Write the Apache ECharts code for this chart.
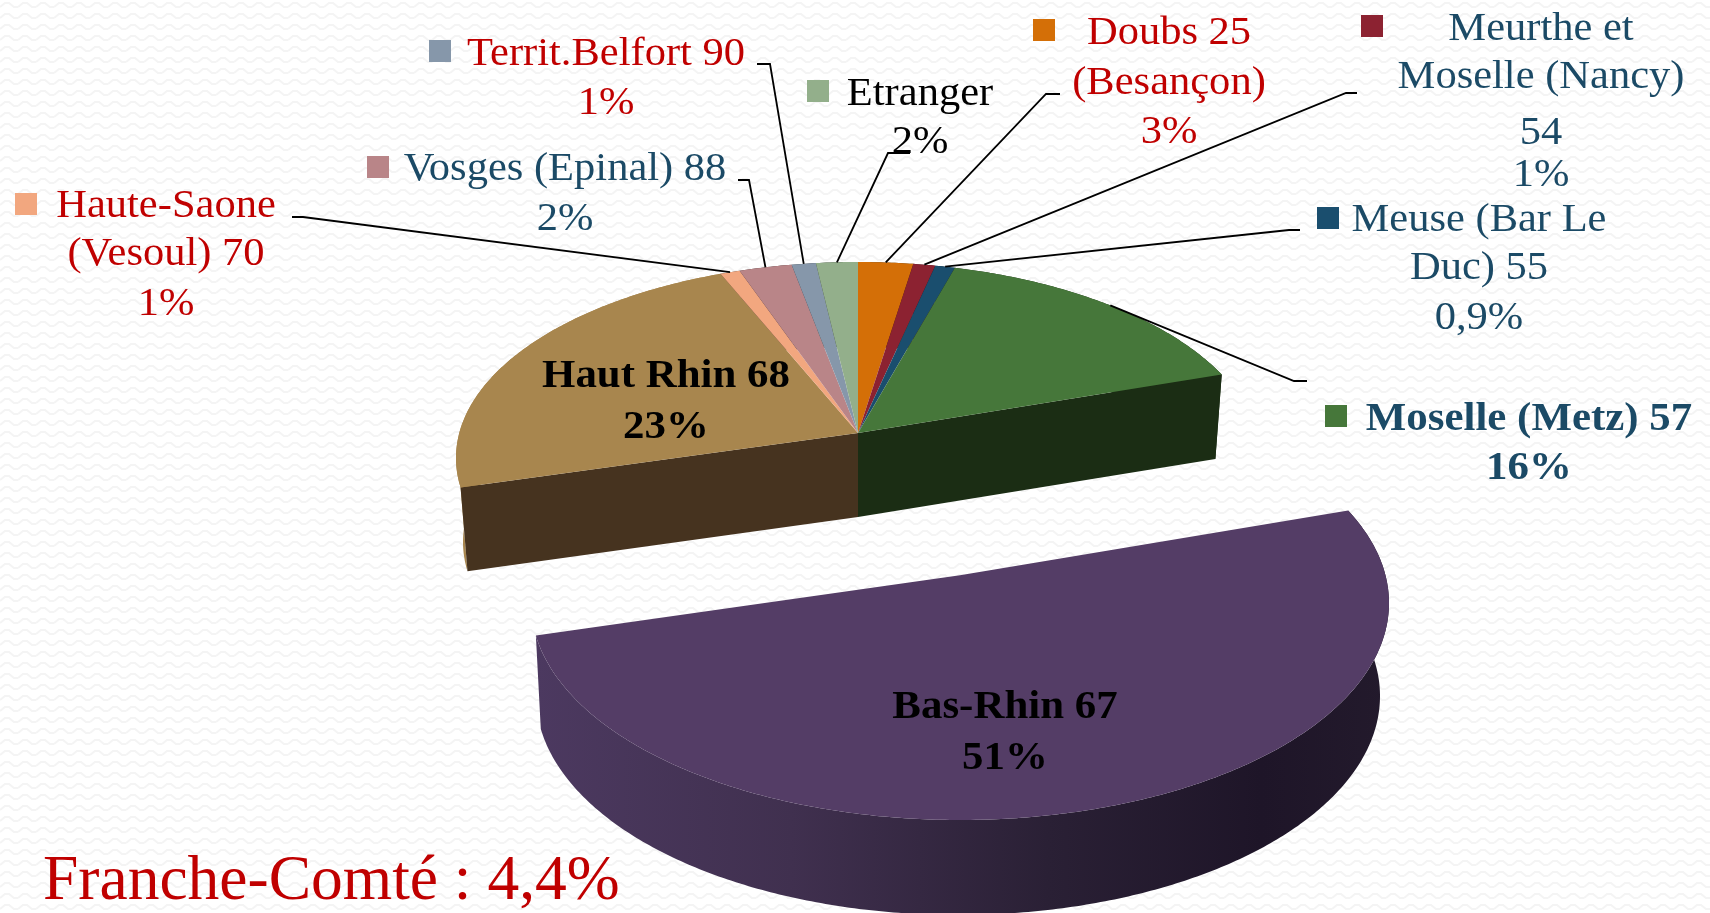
<!DOCTYPE html>
<html lang="fr">
<head>
<meta charset="utf-8">
<title>Franche-Comté : 4,4%</title>
<style>html,body{margin:0;padding:0;background:#fff}#c{width:1710px;height:913px}</style>
<script src="https://cdn.jsdelivr.net/npm/echarts@6/dist/echarts.min.js"></script>
</head>
<body>
<div id="c"></div>
<script>
// ---- data, clockwise from the top of the pie ----
const categories = ['Doubs 25\n(Besançon)', 'Meurthe et\nMoselle (Nancy)\n54', 'Meuse (Bar Le\nDuc) 55', 'Moselle (Metz) 57', 'Bas-Rhin 67', 'Haut Rhin 68', 'Haute-Saone\n(Vesoul) 70', 'Vosges (Epinal) 88', 'Territ.Belfort 90', 'Etranger'];
const shares = [2.5, 1.0, 0.9, 15.5, 50.7, 23.1, 0.9, 2.4, 1.1, 1.9];
const percentLabels = ['3%', '1%', '0,9%', '16%', '51%', '23%', '1%', '2%', '1%', '2%'];
const titleText = 'Franche-Comté : 4,4%';

// ---- styles ----
const topColors = ['#d46f07', '#8c2231', '#1a4e6e', '#46773a', '#543d66', '#a8864e', '#f2a77f', '#b98588', '#8697aa', '#93af8b'];
const sideColors = ['#4a2703', '#310c11', '#091b26', '#1b2d14', '#231a2c', '#46331f', '#553a2c', '#412e2f', '#2f353b', '#333d30'];
const wallColors = sideColors.map((c, i) => i === 5 ? '#a8864e' : c);
const labelColors = ['#c00000', '#1b4a66', '#1b4a66', '#1b4a66', '#000000', '#000000', '#c00000', '#1b4a66', '#c00000', '#000000'];
const boldLabels = [false, false, false, true, true, true, false, false, false, false];

// ---- layout: perspective of the pie and label placement ----
const perspective = 0.128;
const rings = {
  mainTop: {cx: 858, cy: 458, rx: 402, ry: 196},
  mainBase: {cx: 858, cy: 542, rx: 395, ry: 195},
  outTop: {cx: 960, cy: 603, rx: 429, ry: 217},
  outBase: {cx: 958, cy: 696, rx: 422, ry: 219}
};
const explodedIndex = 4;
const labelLayout = [
  {sw: [1033, 19], cx: 1169, base: [46, 96, 145], lead: [[1060, 94], [1046, 94]]},
  {sw: [1361, 15], cx: 1541, base: [42, 90, 146, 188], lead: [[1357, 93], [1346, 93]]},
  {sw: [1317, 207], cx: 1479, base: [233, 281, 331], lead: [[1300, 230], [1289, 230]]},
  {sw: [1325, 405], cx: 1529, base: [432, 481], lead: [[1307, 381], [1294, 381]]},
  {sw: [853, 694], cx: 1005, base: [720, 771], lead: null},
  {sw: [506, 363], cx: 666, base: [389, 440], lead: null},
  {sw: [15, 193], cx: 166, base: [219, 267, 317], lead: [[292, 217], [303, 217]]},
  {sw: [367, 156], cx: 565, base: [182, 232], lead: [[738, 180], [749, 180]]},
  {sw: [429, 40], cx: 606, base: [67, 116], lead: [[757, 64], [770, 64]]},
  {sw: [807, 80], cx: 920, base: [107, 155], lead: [[910, 153], [888, 153]]}
];
const FONT = '"Liberation Serif","Times New Roman",serif';
const FS = 39, STRETCH = 1.09, STRETCH_BOLD = 1.1;

// cumulative [start, end] percent for every slice
let running = 0;
const ranges = shares.map(v => { const r = [running, running + v]; running += v; return r; });
const total = running;

// projects a share position on a ring with perspective
function project(pos, ring) {
  const a = pos / total * Math.PI * 2;
  const p = Math.sin(a), q = Math.cos(a), e = perspective;
  const w = 1 + e * q;
  return [ring.cx + ring.rx * p * Math.sqrt(1 - e * e) / w, ring.cy - ring.ry * (q + e) / w];
}
function apex(ring) { return [ring.cx, ring.cy - ring.ry * perspective]; }
function arc(s, t, ring) {
  const n = Math.max(2, Math.ceil((t - s) * 6)), out = [];
  for (let k = 0; k <= n; k++) out.push(project(s + (t - s) * k / n, ring));
  return out;
}

function renderSlice(params, api) {
  const i = params.dataIndex, s = api.value(0), t = api.value(1);
  const out = i === explodedIndex;
  const top = out ? rings.outTop : rings.mainTop, base = out ? rings.outBase : rings.mainBase;
  const zb = out ? 10 : 0;
  const poly = (points, fill, z2) => ({type: 'polygon', shape: {points}, style: {fill}, z2: z2 + zb, silent: true});
  const cut = pos => [apex(top), project(pos, top), project(pos, base), apex(base)];
  const wallFill = out ? new echarts.graphic.LinearGradient(0, 0, 1, 0, [
    {offset: 0, color: '#4c3960'}, {offset: 0.3, color: '#40304f'}, {offset: 0.6, color: '#2a2035'},
    {offset: 0.85, color: '#1e1528'}, {offset: 1, color: '#231a2c'}]) : wallColors[i];
  const children = [poly(arc(s, t, top).concat(arc(s, t, base).reverse()), wallFill, 1)];
  // only the faces laid bare by the exploded slice can be seen
  if (i === explodedIndex - 1) children.push(poly(cut(t), sideColors[i], 2));
  if (i === explodedIndex + 1) children.push(poly(cut(s), sideColors[i], 2));
  children.push(poly([apex(top)].concat(arc(s, t, top)), topColors[i], 3));
  return {type: 'group', children};
}

function renderLabel(params, api) {
  const i = params.dataIndex, L = labelLayout[i];
  const lines = categories[i].split('\n').concat(percentLabels[i]);
  const font = (boldLabels[i] ? 'bold ' : '') + FS + 'px ' + FONT;
  const children = lines.map((text, k) => ({
    type: 'text', x: L.cx, y: L.base[k], scaleX: boldLabels[i] ? STRETCH_BOLD : STRETCH, silent: true, z2: 30,
    style: {text, x: 0, y: -FS * 0.31, font, fill: labelColors[i], align: 'center', verticalAlign: 'middle', textAlign: 'center', textVerticalAlign: 'middle'}
  }));
  children.push({type: 'rect', shape: {x: L.sw[0], y: L.sw[1], width: 22, height: 22}, style: {fill: topColors[i]}, z2: 29, silent: true});
  if (L.lead) {
    const end = project((api.value(0) + api.value(1)) / 2, rings.mainTop);
    children.push({type: 'polyline', shape: {points: L.lead.concat([end])}, style: {stroke: '#000', lineWidth: 1.8, fill: null}, z2: 28, silent: true});
  }
  return {type: 'group', children};
}

// faint wavy paper texture
function texture() {
  const c = document.createElement('canvas');
  c.width = 18; c.height = 11;
  const g = c.getContext('2d');
  g.fillStyle = '#fff'; g.fillRect(0, 0, 18, 11);
  g.strokeStyle = '#f4f4f4'; g.lineWidth = 2;
  g.beginPath(); g.moveTo(0, 7); g.lineTo(5, 3); g.lineTo(9, 3); g.lineTo(14, 7); g.lineTo(18, 7); g.stroke();
  return c;
}

const chart = echarts.init(document.getElementById('c'), null, {renderer: 'canvas', width: 1710, height: 913});
chart.setOption({
  animation: false,
  backgroundColor: {image: texture(), repeat: 'repeat'},
  title: {text: titleText, left: 43, top: 850, padding: 0, textStyle: {fontFamily: FONT, fontSize: 63.5, fontWeight: 'normal', color: '#c00000'}},
  series: [
    {type: 'custom', coordinateSystem: 'none', silent: true, data: ranges, renderItem: renderSlice, z: 2},
    {type: 'custom', coordinateSystem: 'none', silent: true, data: ranges, renderItem: renderLabel, z: 5}
  ]
});
</script>
</body>
</html>
